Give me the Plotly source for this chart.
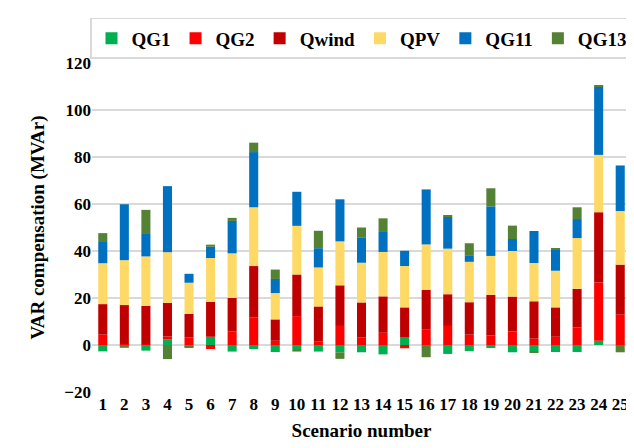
import plotly.graph_objects as go

scenarios = [str(i) for i in range(1, 26)]

QG1   = [-2.7, -0.4, -2.4, 2.3, -0.5, 3.5, -2.8, -1.7, -3.0, -1.7, -2.8, -3.1, -3.1, -4.0, 3.4, 0.0, -3.8, -2.6, -1.3, -3.1, -2.7, -3.0, -3.0, 1.8, 0.0]
QG2   = [4.4, 0.4, 0.3, 1.3, 3.3, -1.7, 5.7, 11.8, 1.8, 12.3, 1.4, 8.1, 3.3, 5.2, -1.4, 6.5, 8.1, 4.4, 4.0, 5.8, 2.7, 3.5, 7.4, 24.8, 12.9]
Qwind = [13.0, 16.6, 16.3, 14.3, 9.9, 14.9, 14.3, 21.8, 9.1, 17.7, 15.0, 17.3, 14.8, 15.5, 12.6, 16.9, 13.5, 13.8, 17.3, 14.8, 15.9, 12.5, 16.5, 29.9, 21.3]
QPV   = [17.4, 19.1, 21.1, 21.6, 13.3, 18.6, 19.0, 25.0, 11.2, 20.7, 16.6, 18.7, 16.9, 18.9, 17.6, 19.4, 19.4, 17.2, 16.6, 19.4, 16.3, 15.6, 21.6, 24.4, 22.8]
QG11  = [9.4, 23.8, 9.9, 28.1, 3.8, 4.8, 13.8, 23.5, 6.0, 14.5, 8.2, 17.9, 10.6, 8.5, 6.5, 23.4, 13.5, 2.8, 21.1, 5.1, 13.6, 8.9, 8.1, 29.1, 19.4]
QG13  = [3.4, -0.8, 9.9, -6.0, -0.5, 0.9, 1.3, 4.0, 4.0, -1.1, 7.4, -2.8, 4.4, 5.8, 0.0, -5.2, 0.6, 5.1, 7.7, 5.7, -0.4, 0.4, 5.0, 0.4, -3.1]

series = [
    ("QG1", QG1, "#00b050"),
    ("QG2", QG2, "#ff0000"),
    ("Qwind", Qwind, "#c00000"),
    ("QPV", QPV, "#ffd966"),
    ("QG11", QG11, "#0070c0"),
    ("QG13", QG13, "#548235"),
]

y_ticks = [-20, 0, 20, 40, 60, 80, 100, 120]

FONT = "Liberation Serif"

fig = go.Figure()
for name, vals, color in series:
    fig.add_trace(go.Bar(
        x=scenarios, y=vals, name=name,
        marker=dict(color=color, line=dict(width=0)),
    ))

fig.update_layout(
    barmode="relative",
    bargap=0.58,
    width=634, height=448,
    margin=dict(l=84, r=11, t=55, b=64, autoexpand=False),
    plot_bgcolor="white",
    paper_bgcolor="white",
    font=dict(family=FONT, color="black"),
    legend=dict(
        orientation="h",
        x=0.5, xanchor="center",
        xref="paper",
        y=0.978, yanchor="top",
        yref="container",
        bordercolor="#d9d9d9", borderwidth=1.5,
        font=dict(family=FONT, size=19, color="black", weight="bold"),
        itemwidth=30,
        traceorder="normal",
    ),
    xaxis=dict(
        title=dict(text="<b>Scenario number</b>", font=dict(family=FONT, size=19), standoff=10),
        tickfont=dict(family=FONT, size=17, weight="bold"),
        showgrid=False, showline=False, ticks="",
    ),
    yaxis=dict(
        title=dict(text="<b>VAR compensation (MVAr)</b>", font=dict(family=FONT, size=19), standoff=14),
        range=[-20, 120],
        tickvals=y_ticks,
        tickfont=dict(family=FONT, size=17, weight="bold"),
        showgrid=True, gridcolor="#d9d9d9", gridwidth=1.5,
        zeroline=True, zerolinecolor="#d9d9d9", zerolinewidth=1.5,
        showline=False, ticks="",
    ),
)

fig.write_html("out.html")
